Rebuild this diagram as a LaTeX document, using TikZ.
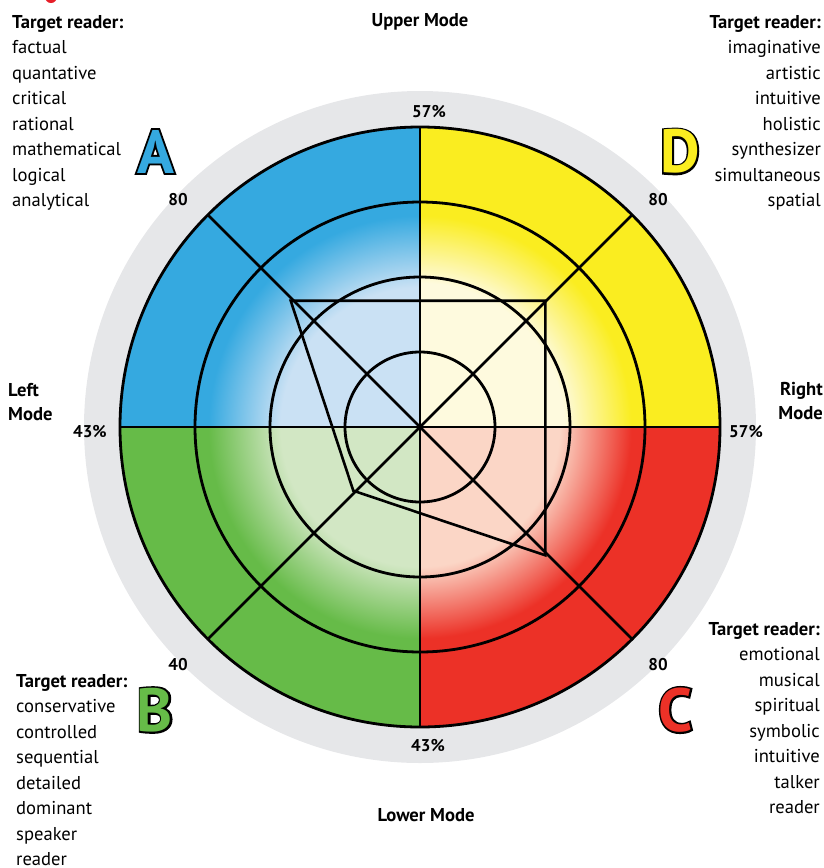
\documentclass[tikz,border=0pt]{standalone}
\usepackage{fontspec}
\setmainfont{PT Sans}
\newfontface\letterface{PT Sans Bold}
\newfontface\letteroutlineface{PT Sans Bold}[FakeBold=6]
\usetikzlibrary{calc}

\definecolor{ringgray}{RGB}{230,231,233}
\definecolor{qblue}{RGB}{53,169,224}
\definecolor{qbluepale}{RGB}{202,225,244}
\definecolor{qyellow}{RGB}{250,237,32}
\definecolor{qyellowpale}{RGB}{254,250,222}
\definecolor{qgreen}{RGB}{102,187,72}
\definecolor{qgreenpale}{RGB}{210,231,196}
\definecolor{qred}{RGB}{236,49,39}
\definecolor{qredpale}{RGB}{251,214,198}
\definecolor{markred}{RGB}{230,30,40}

% pale centre fading to the full quadrant colour at the inner rim
\pgfdeclareradialshading{shadeA}{\pgfpoint{0bp}{0bp}}{color(0bp)=(qbluepale); color(15.5bp)=(qbluepale); color(23.5bp)=(qblue); color(50bp)=(qblue)}
\pgfdeclareradialshading{shadeB}{\pgfpoint{0bp}{0bp}}{color(0bp)=(qgreenpale); color(15.5bp)=(qgreenpale); color(23.5bp)=(qgreen); color(50bp)=(qgreen)}
\pgfdeclareradialshading{shadeC}{\pgfpoint{0bp}{0bp}}{color(0bp)=(qredpale); color(15.5bp)=(qredpale); color(23.5bp)=(qred); color(50bp)=(qred)}
\pgfdeclareradialshading{shadeD}{\pgfpoint{0bp}{0bp}}{color(0bp)=(qyellowpale); color(16bp)=(qyellowpale); color(23.5bp)=(qyellow); color(50bp)=(qyellow)}

\tikzset{
  gridline/.style={line width=2.8pt, black},
  polyline/.style={line width=2.6pt, black, line join=miter},
  listtext/.style={font=\fontsize{18.6pt}{25.5pt}\selectfont, inner sep=0pt},
  modetext/.style={font=\fontsize{18.6pt}{24pt}\selectfont\bfseries, inner sep=0pt},
  valtext/.style={font=\fontsize{17pt}{20pt}\selectfont\bfseries, inner sep=0pt},
  bigletter/.style={font=\fontsize{61pt}{61pt}\selectfont\letterface, inner sep=0pt},
  bigoutline/.style={font=\fontsize{61pt}{61pt}\selectfont\letteroutlineface, inner sep=0pt, text=black},
}

% outlined capital: emboldened black letter underneath, coloured letter on top
\newcommand{\outlinedletter}[4]{%
  \node[bigoutline] at (#1) {#3};
  \node[bigletter, text=#4] (#2) at (#1) {#3};
}

\begin{document}
\begin{tikzpicture}[x=1pt, y=-1pt]
\useasboundingbox (0,0) rectangle (824,868);

\coordinate (O) at (420,427);

% background ring
\fill[ringgray] (O) circle[radius=336pt];

% quadrants: solid outer band, shaded inner disc
\begin{scope}
  \clip (120,127) rectangle (420,427);
  \fill[qblue] (O) circle[radius=300pt];
  \shade[shading=shadeA] (O) circle[radius=225pt];
\end{scope}
\begin{scope}
  \clip (420,127) rectangle (720,427);
  \fill[qyellow] (O) circle[radius=300pt];
  \shade[shading=shadeD] (O) circle[radius=225pt];
\end{scope}
\begin{scope}
  \clip (120,427) rectangle (420,727);
  \fill[qgreen] (O) circle[radius=300pt];
  \shade[shading=shadeB] (O) circle[radius=225pt];
\end{scope}
\begin{scope}
  \clip (420,427) rectangle (720,727);
  \fill[qred] (O) circle[radius=300pt];
  \shade[shading=shadeC] (O) circle[radius=225pt];
\end{scope}

% rings
\foreach \r in {75,150,225,300} {
  \draw[gridline] (O) circle[radius=\r pt];
}

% axes and diagonals
\coordinate (top) at (420,127);
\coordinate (bottom) at (420,727);
\coordinate (left) at (120,427);
\coordinate (right) at (720,427);
\coordinate (nw) at (207.9,214.9);
\coordinate (ne) at (632.1,214.9);
\coordinate (sw) at (207.9,639.1);
\coordinate (se) at (632.1,639.1);
\draw[gridline] (top) -- (bottom);
\draw[gridline] (left) -- (right);
\draw[gridline] (nw) -- (se);
\draw[gridline] (ne) -- (sw);

% profile polygon
\coordinate (pA) at (290.7,300.7);
\coordinate (pD) at (545.3,300.7);
\coordinate (pC) at (545.3,555.3);
\coordinate (pB) at (353.3,490.7);
\draw[polyline] (pA) -- (pD) -- (pC) -- (pB) -- cycle;

% percentages and scale values
\node[valtext] (ptop) at (429,112) {57\%};
\node[valtext] (pleft) at (90,432) {43\%};
\node[valtext] (pright) at (746,432) {57\%};
\node[valtext] (pbottom) at (428,746) {43\%};
\node[valtext] (vA) at (178,200) {80};
\node[valtext] (vD) at (658,200) {80};
\node[valtext] (vC) at (658,665) {80};
\node[valtext] (vB) at (178,665) {40};

% mode labels
\node[modetext] (upper) at (420,22) {Upper Mode};
\node[modetext] (lower) at (426,815) {Lower Mode};
\node[modetext, anchor=west, align=left] (leftmode) at (8,402) {Left\\Mode};
\node[modetext, anchor=east, align=right] (rightmode) at (823,401) {Right\\Mode};

% quadrant letters
\outlinedletter{155.5,151.5}{letA}{A}{qblue}
\outlinedletter{680,151.5}{letD}{D}{qyellow}
\outlinedletter{155,710}{letB}{B}{qgreen}
\outlinedletter{675.5,710}{letC}{C}{qred}

% reader lists
\node[listtext, anchor=north west, align=left] (listA) at (12,15)
  {\textbf{Target reader:}\\factual\\quantative\\critical\\rational\\mathematical\\logical\\analytical};
\node[listtext, anchor=north east, align=right] (listD) at (821,15)
  {\textbf{Target reader:}\\imaginative\\artistic\\intuitive\\holistic\\synthesizer\\simultaneous\\spatial};
\node[listtext, anchor=north west, align=left] (listB) at (16,674)
  {\textbf{Target reader:}\\conservative\\controlled\\sequential\\detailed\\dominant\\speaker\\reader};
\node[listtext, anchor=north east, align=right] (listC) at (820,622)
  {\textbf{Target reader:}\\emotional\\musical\\spiritual\\symbolic\\intuitive\\talker\\reader};

% small red mark at the top edge
\fill[markred] (51,-3) circle[radius=6pt];
\end{tikzpicture}
\end{document}
